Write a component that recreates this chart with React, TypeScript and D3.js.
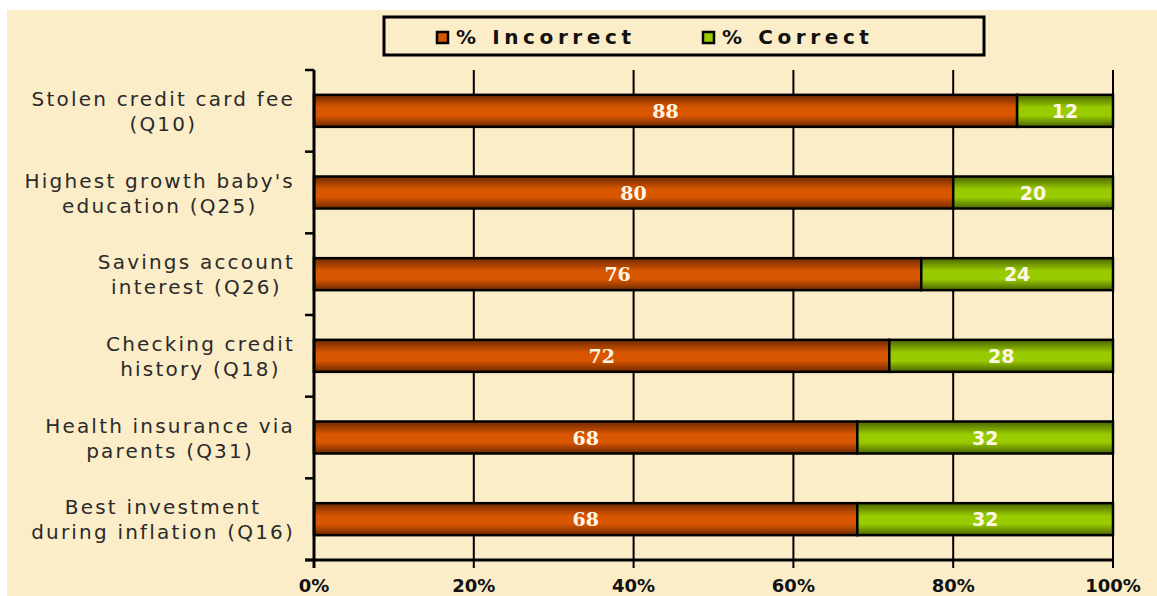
import React, { useEffect, useRef } from "react"
import * as d3 from "d3"

const questions = [
  ["Stolen credit card fee", "(Q10)"],
  ["Highest growth baby's", "education (Q25)"],
  ["Savings account", "interest (Q26)"],
  ["Checking credit", "history (Q18)"],
  ["Health insurance via", "parents (Q31)"],
  ["Best investment", "during inflation (Q16)"],
]
const incorrect = [88, 80, 76, 72, 68, 68]
const correct = [12, 20, 24, 28, 32, 32]
const xTicks = [0, 20, 40, 60, 80, 100]
const seriesNames = ["% Incorrect", "% Correct"]

const W = 1157
const H = 596
const BG = "#FBEDC8"
const FONT = "'DejaVu Sans', Verdana, sans-serif"

export default function App() {
  const ref = useRef<SVGSVGElement>(null)

  useEffect(() => {
    const svg = d3.select(ref.current)
    svg.selectAll("*").remove()

    const defs = svg.append("defs")
    const grads = [
      { id: "gInc", dark: "#6e2900", light: "#D85600" },
      { id: "gCor", dark: "#4a6400", light: "#99CC00" },
    ]
    grads.forEach(g => {
      const lg = defs.append("linearGradient")
        .attr("id", g.id).attr("x1", 0).attr("x2", 0).attr("y1", 0).attr("y2", 1)
      lg.append("stop").attr("offset", "0%").attr("stop-color", g.dark)
      lg.append("stop").attr("offset", "40%").attr("stop-color", g.light)
      lg.append("stop").attr("offset", "65%").attr("stop-color", g.light)
      lg.append("stop").attr("offset", "100%").attr("stop-color", g.dark)
    })

    // panel
    svg.append("rect").attr("x", 7).attr("y", 10).attr("width", W - 7).attr("height", H - 10).attr("fill", BG)

    const x = d3.scaleLinear().domain([0, 100]).range([314, 1113])
    const y = d3.scaleBand().domain(questions.map((_, i) => String(i))).range([70, 560]).paddingInner(0).paddingOuter(0)
    const barH = 32

    // grid
    svg.append("g").selectAll("line").data(xTicks.slice(1)).enter().append("line")
      .attr("x1", d => x(d)).attr("x2", d => x(d))
      .attr("y1", 70).attr("y2", 568)
      .attr("stroke", "#000").attr("stroke-width", 2)

    // bars
    const rows = svg.append("g").selectAll("g").data(questions).enter().append("g")
    rows.append("rect")
      .attr("x", x(0))
      .attr("y", (_, i) => y(String(i))! + y.bandwidth() / 2 - barH / 2)
      .attr("width", (_, i) => x(incorrect[i]) - x(0))
      .attr("height", barH)
      .attr("fill", "url(#gInc)").attr("stroke", "#000").attr("stroke-width", 2.5)
    rows.append("rect")
      .attr("x", (_, i) => x(incorrect[i]))
      .attr("y", (_, i) => y(String(i))! + y.bandwidth() / 2 - barH / 2)
      .attr("width", (_, i) => x(incorrect[i] + correct[i]) - x(incorrect[i]))
      .attr("height", barH)
      .attr("fill", "url(#gCor)").attr("stroke", "#000").attr("stroke-width", 2.5)
    rows.append("text")
      .attr("x", (_, i) => x(incorrect[i] / 2))
      .attr("y", (_, i) => y(String(i))! + y.bandwidth() / 2 + 7)
      .attr("text-anchor", "middle")
      .attr("font-family", "'DejaVu Serif', serif").attr("font-weight", "bold").attr("font-size", 19)
      .attr("fill", "#FFF6E6")
      .text((_, i) => incorrect[i])
    rows.append("text")
      .attr("x", (_, i) => x(incorrect[i] + correct[i] / 2))
      .attr("y", (_, i) => y(String(i))! + y.bandwidth() / 2 + 7)
      .attr("text-anchor", "middle")
      .attr("font-family", FONT).attr("font-weight", "bold").attr("font-size", 19)
      .attr("fill", "#FFF6E6")
      .text((_, i) => correct[i])

    // y axis
    svg.append("line").attr("x1", x(0)).attr("x2", x(0)).attr("y1", 70).attr("y2", 560)
      .attr("stroke", "#000").attr("stroke-width", 3)
    const bounds = questions.map((_, i) => y(String(i))!).concat([560])
    svg.append("g").selectAll("line").data(bounds).enter().append("line")
      .attr("x1", 305).attr("x2", x(0)).attr("y1", d => d).attr("y2", d => d)
      .attr("stroke", "#000").attr("stroke-width", 2.5)
    // x axis
    svg.append("line").attr("x1", 305).attr("x2", x(100)).attr("y1", 560).attr("y2", 560)
      .attr("stroke", "#000").attr("stroke-width", 3)
    svg.append("line").attr("x1", x(0)).attr("x2", x(0)).attr("y1", 560).attr("y2", 568)
      .attr("stroke", "#000").attr("stroke-width", 3)
    svg.append("g").selectAll("text").data(xTicks).enter().append("text")
      .attr("x", d => x(d)).attr("y", 592)
      .attr("text-anchor", "middle")
      .attr("font-family", FONT).attr("font-weight", "bold").attr("font-size", 18)
      .attr("fill", "#111")
      .text(d => d + "%")

    // category labels, centered block, right edge at ~294
    questions.forEach((lines, i) => {
      const cy = y(String(i))! + y.bandwidth() / 2
      const g = svg.append("g")
      const texts = lines.map((l, j) => g.append("text")
        .attr("y", cy - 12 + j * 25 + 7)
        .attr("text-anchor", "middle")
        .attr("font-family", FONT).attr("font-size", 20).attr("letter-spacing", 2.2)
        .attr("fill", "#2a2a2a")
        .text(l))
      const maxW = d3.max(texts, t => (t.node() as SVGTextElement).getComputedTextLength()) || 0
      texts.forEach(t => t.attr("x", 295 - maxW / 2))
    })

    // legend
    svg.append("rect").attr("x", 384).attr("y", 17).attr("width", 600).attr("height", 38)
      .attr("fill", BG).attr("stroke", "#000").attr("stroke-width", 3)
    const lx = [437, 703]
    seriesNames.forEach((n, i) => {
      svg.append("rect").attr("x", lx[i]).attr("y", 32).attr("width", 11).attr("height", 11)
        .attr("fill", i === 0 ? "#D85600" : "#99CC00").attr("stroke", "#000").attr("stroke-width", 2.5)
      svg.append("text").attr("x", lx[i] + 19).attr("y", 44)
        .attr("font-family", FONT).attr("font-weight", "bold").attr("font-size", 20).attr("letter-spacing", 4.6)
        .attr("fill", "#111")
        .text(n)
    })
  }, [])

  return (
    <svg ref={ref} width={W} height={H} style={{ position: "absolute", left: 0, top: 0 }} />
  )
}
